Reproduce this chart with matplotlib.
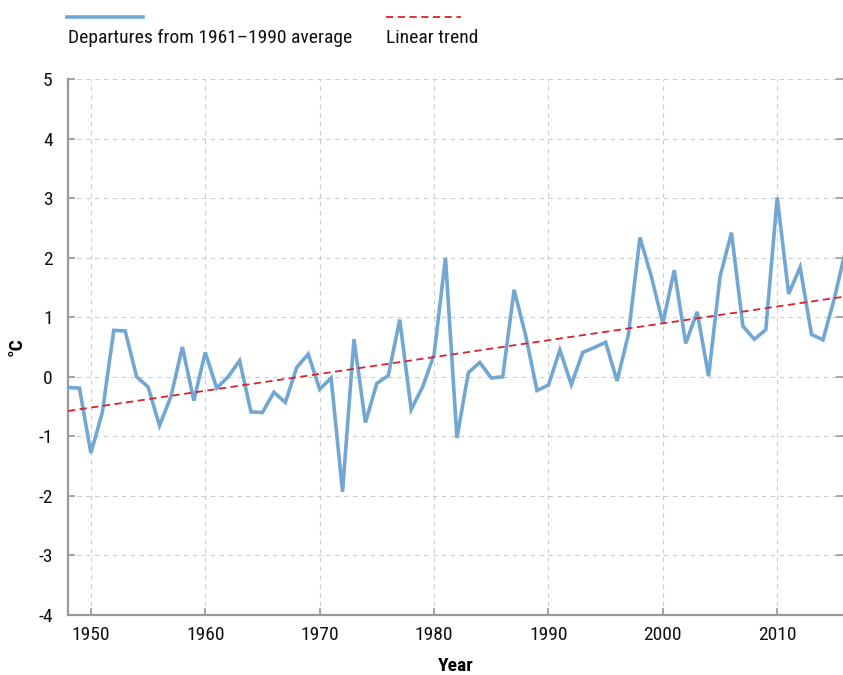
import matplotlib
matplotlib.use("Agg")
import matplotlib.pyplot as plt
from matplotlib.lines import Line2D
import numpy as np

plt.rcParams['font.family'] = ['Roboto Condensed', 'Liberation Sans Narrow', 'Roboto', 'DejaVu Sans']

# annual temperature departures from the 1961-1990 average (°C)
anos = list(range(1948, 2017))
desvios = [
    -0.18, -0.19, -1.28, -0.60, 0.78, 0.77, 0.00, -0.17, -0.82, -0.33,
    0.50, -0.40, 0.41, -0.19, 0.00, 0.27, -0.59, -0.60, -0.26, -0.43,
    0.16, 0.38, -0.21, -0.02, -1.93, 0.63, -0.77, -0.11, 0.02, 0.96,
    -0.55, -0.17, 0.37, 2.00, -1.03, 0.07, 0.24, -0.02, 0.00, 1.46,
    0.70, -0.23, -0.14, 0.45, -0.13, 0.41, 0.49, 0.58, -0.07, 0.72,
    2.34, 1.68, 0.90, 1.79, 0.56, 1.09, 0.01, 1.68, 2.42, 0.85,
    0.63, 0.79, 3.01, 1.39, 1.84, 0.71, 0.62, 1.32, 2.15,
]
ticks_x = [1950, 1960, 1970, 1980, 1990, 2000, 2010]
ticks_y = [-4, -3, -2, -1, 0, 1, 2, 3, 4, 5]

azul = '#72a6d3'
rojo = '#d9232a'
gris = '#999999'

x = np.array(anos)
y = np.array(desvios)
pendiente, corte = np.polyfit(x, y, 1)
tendencia = pendiente * x + corte

fig = plt.figure(figsize=(8.43, 6.75), dpi=100)
ax = fig.add_axes([68 / 843, 60 / 675, 1 - 68 / 843, 536 / 675])

ax.plot(x, y, color=azul, linewidth=2.6, solid_joinstyle='miter', zorder=3)
ax.plot(x, tendencia, color=rojo, linewidth=1.3, linestyle=(0, (4, 2.5)), zorder=4)

ax.set_xlim(1948, 2015.75)
ax.set_ylim(-4, 5)
ax.set_xticks(ticks_x)
ax.set_yticks(ticks_y)
ax.set_yticklabels([str(v) for v in ticks_y])

ax.grid(True, color='#cccccc', linestyle=(0, (4, 4)), linewidth=0.8)
ax.set_axisbelow(True)

for lado in ['top', 'right']:
    ax.spines[lado].set_visible(False)
for lado in ['left', 'bottom']:
    ax.spines[lado].set_color(gris)
    ax.spines[lado].set_linewidth(1.6)

ax.tick_params(axis='both', direction='in', length=5, width=1.2, color=gris,
               labelsize=14, labelcolor='#111111')
ax.tick_params(axis='y', right=True, pad=11)
ax.tick_params(axis='x', pad=8)

ax.set_xlabel('Year', fontsize=14, fontweight='bold', labelpad=9)
ax.set_ylabel('°C', fontsize=14, fontweight='bold', labelpad=9)

# leyenda con la muestra de línea encima del texto
fig.add_artist(Line2D([67 / 843, 143 / 843], [1 - 17 / 675] * 2, color=azul, linewidth=2.6))
fig.text(68 / 843, 1 - 38 / 675, 'Departures from 1961\u20131990 average',
         fontsize=14, va='center', ha='left', color='#111111')
fig.add_artist(Line2D([386 / 843, 461 / 843], [1 - 17 / 675] * 2, color=rojo,
                      linewidth=1.3, linestyle=(0, (4, 2.5))))
fig.text(386 / 843, 1 - 38 / 675, 'Linear trend',
         fontsize=14, va='center', ha='left', color='#111111')

fig.savefig('out.png', dpi=100)
